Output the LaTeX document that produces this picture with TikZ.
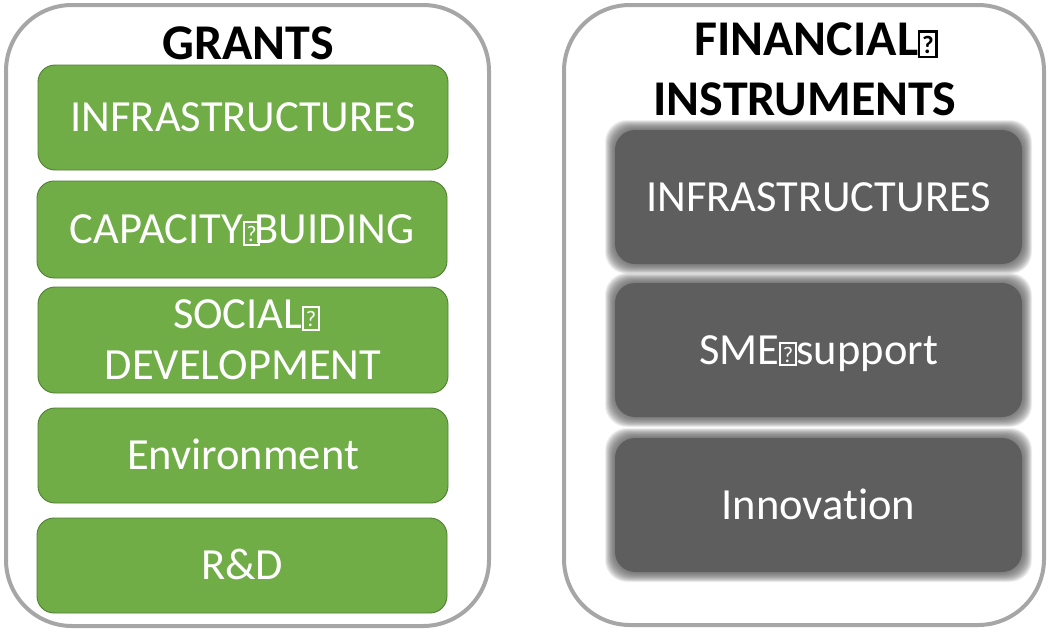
\documentclass[tikz,border=0pt]{standalone}
\usepackage{fontspec}
\setmainfont{Carlito}[Ligatures=NoCommon]
\definecolor{outergray}{HTML}{A6A6A6}
\definecolor{ggreen}{HTML}{70AD47}
\definecolor{gborder}{HTML}{507E32}
\definecolor{dgray}{HTML}{5E5E5E}
\newcommand\qbox{{\setlength\fboxsep{0pt}\setlength\fboxrule{0.045em}\fbox{\makebox[0.3em][c]{\rule{0pt}{0.46em}\raisebox{0.05em}{\scalebox{0.5}{?}}}}}}
\begin{document}
\begin{tikzpicture}[x=1pt,y=-1pt,
  outerbox/.style={draw=outergray, line width=4pt, rounded corners=66pt},
  gbox/.style={draw=gborder, fill=ggreen, line width=0.9pt, rounded corners=17pt,
     minimum width=410pt, inner sep=0pt, text=white, align=center,
     font=\fontsize{44.5}{51}\selectfont, text height=28.6pt, text depth=0pt},
  dbox/.style={rounded corners=20pt, minimum width=407pt, minimum height=134pt,
     inner sep=0pt, text=white, font=\fontsize{44.5}{51}\selectfont, text height=28.6pt, text depth=0pt},
  title/.style={font=\bfseries\fontsize{50}{60}\selectfont, text height=32.2pt, text depth=0pt, inner sep=0pt}
]
\useasboundingbox (0,0) rectangle (1049,629);
% outer frames
\draw[outerbox] (6,5) rectangle (489,626);
\draw[outerbox] (564,5) rectangle (1044,625);
% titles
\node[title] (tg) at (248,43) {GRANTS};
\node[title] (tf1) at (816,39.5) {FINANCIAL\qbox};
\node[title] (tf2) at (805,99.5) {INSTRUMENTS};
% green boxes
\node[gbox, minimum height=105pt] (g1) at (243,117.5) {INFRASTRUCTURES};
\node[gbox, minimum height=97pt] (g2) at (242,229.5) {CAPACITY\qbox\kern-0.12em BUIDING};
\node[gbox, minimum height=106pt, text height=79.6pt] (g3) at (243,340) {\hspace*{0.15em}SOCIAL\qbox\\DEVELOPMENT};
\node[gbox, minimum height=95pt] (g4) at (243,455.5) {Environment};
\node[gbox, minimum height=95pt] (g5) at (242,565.5) {R\&D};
% dark boxes with soft (blurred) edges
\foreach \cy in {197,350,505}{
  \foreach \d in {6,5.5,...,-4}{
    \fill[dgray, opacity=0.08, rounded corners=22pt]
      (818.5-207.5-\d,\cy-71-\d) rectangle (818.5+207.5+\d,\cy+71+\d);
  }
}
\node[dbox, fill=dgray] (d1) at (818.5,197) {INFRASTRUCTURES};
\node[dbox, fill=dgray] (d2) at (818.5,350) {SME\qbox support};
\node[dbox, fill=dgray] (d3) at (818.5,505) {Innovation};
\end{tikzpicture}
\end{document}
